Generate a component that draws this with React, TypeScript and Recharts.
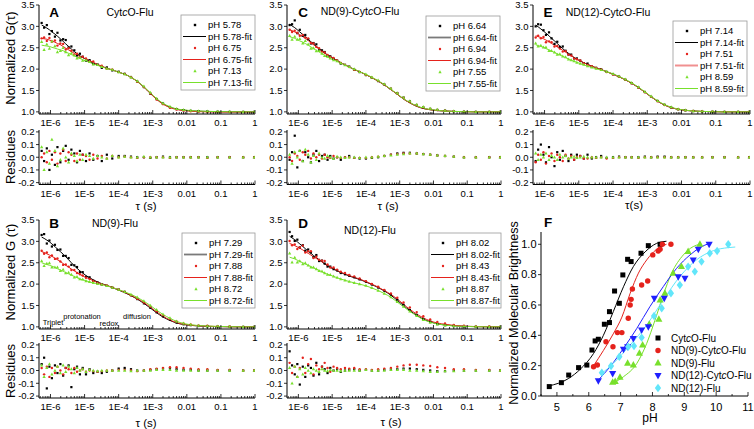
import React from 'react';
import { ComposedChart, Scatter, Line, XAxis, YAxis } from 'recharts';

const FONT = '"Liberation Sans", Arial, Helvetica, sans-serif';
const BLACK = '#000000';
const RED = '#e5221c';
const GREEN = '#78e02c';
const BLUE = '#1f1fff';
const CYAN = '#62e6fa';

// ---------- FCS data (tau in s) ----------
const TAU = [5.5e-7, 6.5e-7, 7.8e-7, 9.3e-7, 1.1e-6, 1.35e-6, 1.6e-6, 1.95e-6, 2.35e-6, 2.8e-6,
  3.4e-6, 4.1e-6, 5e-6, 6e-6, 7.3e-6, 8.8e-6, 1.1e-5, 1.4e-5, 1.8e-5, 2.4e-5,
  3.2e-5, 4.5e-5, 6.5e-5, 1e-4, 1.5e-4, 2.3e-4, 3.5e-4, 5.5e-4, 8.5e-4, 1.3e-3,
  2e-3, 3.2e-3, 5e-3, 8e-3, 1.3e-2, 2.2e-2, 4e-2, 8e-2, 0.18, 0.45, 0.95];

// Panel A: CytcO-Flu
const PH_A = ['5.78', '6.75', '7.13'];
const FIT_A1 = [3.03, 3.00, 2.96, 2.92, 2.87, 2.82, 2.77, 2.71, 2.65, 2.59, 2.53, 2.47, 2.41, 2.36, 2.31, 2.27, 2.23, 2.18, 2.14, 2.10, 2.06, 2.02, 1.98, 1.93, 1.88, 1.81, 1.71, 1.58, 1.43, 1.30, 1.19, 1.11, 1.065, 1.04, 1.025, 1.015, 1.01, 1.005, 1.0, 1.0, 1.0];
const DAT_A1 = [3.08, 2.97, 3.03, 2.82, 2.89, 2.76, 2.85, 2.67, 2.70, 2.68, 2.51, 2.53, 2.44, 2.32, 2.36, 2.29, 2.20, 2.21, 2.12, 2.11, 2.03, 2.04, 1.97, 1.94, 1.89, 1.815, 1.71, 1.58, 1.425, 1.30, 1.195, 1.11, 1.065, 1.04, 1.025, 1.015, 1.01, 1.005, 1.0, 1.0, 1.0];
const RES_A1 = [0.05, -0.03, 0.07, -0.1, 0.02, -0.06, 0.08, -0.04, 0.05, 0.09, -0.02, 0.06, 0.03, -0.04, 0.05, 0.02, -0.03, 0.03, -0.02, 0.01, -0.03, 0.02, -0.01, 0.01, 0.01, 0.005, 0, 0, -0.005, 0, 0.005, 0, 0, 0, 0, 0, 0, 0, 0, 0, 0];
const FIT_A2 = [2.72, 2.71, 2.70, 2.68, 2.66, 2.63, 2.60, 2.57, 2.53, 2.49, 2.45, 2.41, 2.37, 2.33, 2.30, 2.27, 2.24, 2.20, 2.16, 2.11, 2.07, 2.02, 1.98, 1.93, 1.88, 1.81, 1.71, 1.58, 1.43, 1.29, 1.18, 1.10, 1.055, 1.03, 1.015, 1.005, 1.0, 0.995, 0.995, 0.995, 0.995];
const DAT_A2 = [2.72, 2.74, 2.66, 2.73, 2.64, 2.67, 2.55, 2.60, 2.59, 2.46, 2.49, 2.43, 2.34, 2.36, 2.28, 2.29, 2.25, 2.18, 2.18, 2.10, 2.08, 2.01, 1.99, 1.93, 1.885, 1.81, 1.705, 1.58, 1.43, 1.29, 1.18, 1.095, 1.055, 1.03, 1.015, 1.005, 0.995, 0.995, 0.995, 0.995, 0.995];
const RES_A2 = [0, 0.03, -0.04, 0.05, -0.02, 0.04, -0.05, 0.03, 0.06, -0.03, 0.04, 0.02, -0.03, 0.03, -0.02, 0.02, 0.01, -0.02, 0.02, -0.01, 0.01, -0.01, 0.01, 0, 0.005, 0, -0.005, 0, 0, 0, 0, -0.005, 0, 0, 0, 0, -0.005, 0, 0, 0, 0];
const FIT_A3 = [2.56, 2.55, 2.54, 2.53, 2.51, 2.49, 2.47, 2.45, 2.43, 2.40, 2.37, 2.34, 2.31, 2.28, 2.25, 2.22, 2.19, 2.16, 2.12, 2.09, 2.05, 2.02, 1.98, 1.93, 1.88, 1.81, 1.72, 1.59, 1.45, 1.31, 1.20, 1.12, 1.07, 1.045, 1.03, 1.02, 1.012, 1.006, 1.003, 1.0, 1.0];
const DAT_A3 = [2.64, 2.45, 2.58, 2.48, 2.65, 2.54, 2.40, 2.43, 2.50, 2.40, 2.33, 2.37, 2.32, 2.25, 2.27, 2.20, 2.21, 2.17, 2.11, 2.10, 2.05, 2.01, 1.99, 1.93, 1.885, 1.81, 1.72, 1.595, 1.45, 1.31, 1.20, 1.12, 1.07, 1.045, 1.03, 1.02, 1.012, 1.006, 1.003, 1.0, 1.0];
const RES_A3 = [0.08, -0.1, 0.04, -0.05, 0.14, 0.05, -0.07, -0.02, 0.07, 0, -0.04, 0.03, 0.01, -0.03, 0.02, -0.02, 0.02, 0.01, -0.01, 0.01, 0, -0.01, 0.01, 0, 0.005, 0, 0, 0.005, 0, 0, 0, 0, 0, 0, 0, 0, 0, 0, 0, 0, 0];

// Panel B: ND(9)-Flu
const PH_B = ['7.29', '7.88', '8.72'];
const FIT_B1 = [3.10, 3.07, 3.03, 2.99, 2.94, 2.88, 2.82, 2.76, 2.70, 2.64, 2.57, 2.50, 2.43, 2.37, 2.31, 2.26, 2.20, 2.15, 2.10, 2.05, 2.01, 1.97, 1.92, 1.86, 1.80, 1.73, 1.65, 1.55, 1.44, 1.33, 1.23, 1.15, 1.09, 1.055, 1.035, 1.02, 1.012, 1.006, 1.002, 1.0, 1.0];
const DAT_B1 = [3.15, 3.17, 2.95, 3.02, 2.88, 2.92, 2.80, 2.81, 2.66, 2.66, 2.61, 2.45, 2.44, 2.40, 2.28, 2.28, 2.17, 2.16, 2.08, 2.04, 1.99, 1.96, 1.92, 1.875, 1.82, 1.74, 1.65, 1.55, 1.445, 1.34, 1.245, 1.165, 1.10, 1.06, 1.04, 1.02, 1.012, 1.006, 1.002, 1.0, 1.0];
const RES_B1 = [0.05, 0.1, -0.14, 0.03, -0.06, 0.04, -0.02, 0.05, -0.04, 0.02, 0.04, -0.13, 0.01, 0.03, -0.03, 0.02, -0.03, 0.01, -0.02, -0.01, -0.02, -0.01, 0, 0.015, 0.02, 0.01, 0, 0, 0.005, 0.01, 0.015, 0.015, 0.01, 0.005, 0.005, 0, 0, 0, 0, 0, 0];
const FIT_B2 = [2.76, 2.74, 2.71, 2.68, 2.65, 2.61, 2.57, 2.53, 2.48, 2.44, 2.40, 2.35, 2.31, 2.27, 2.23, 2.19, 2.16, 2.12, 2.08, 2.04, 2.00, 1.97, 1.92, 1.87, 1.81, 1.74, 1.66, 1.57, 1.46, 1.35, 1.25, 1.16, 1.10, 1.06, 1.04, 1.025, 1.015, 1.008, 1.003, 1.0, 1.0];
const DAT_B2 = [2.78, 2.71, 2.74, 2.63, 2.67, 2.59, 2.60, 2.53, 2.45, 2.46, 2.41, 2.33, 2.33, 2.26, 2.23, 2.20, 2.15, 2.12, 2.075, 2.03, 1.995, 1.97, 1.92, 1.875, 1.815, 1.74, 1.655, 1.57, 1.47, 1.365, 1.27, 1.185, 1.125, 1.08, 1.055, 1.035, 1.025, 1.013, 1.008, 1.0, 1.0];
const RES_B2 = [0.02, -0.03, 0.03, -0.05, 0.02, -0.02, 0.03, 0, -0.03, 0.02, 0.01, -0.02, 0.02, -0.01, 0, 0.01, -0.01, 0, -0.005, -0.01, -0.005, 0, 0, 0.005, 0.005, 0, -0.005, 0, 0.01, 0.015, 0.02, 0.025, 0.025, 0.02, 0.015, 0.01, 0.01, 0.005, 0.005, 0, 0];
const FIT_B3 = [2.50, 2.48, 2.46, 2.44, 2.42, 2.39, 2.36, 2.33, 2.30, 2.27, 2.24, 2.21, 2.18, 2.15, 2.12, 2.10, 2.08, 2.05, 2.03, 2.01, 1.99, 1.96, 1.92, 1.87, 1.82, 1.76, 1.69, 1.60, 1.50, 1.39, 1.29, 1.20, 1.13, 1.08, 1.05, 1.03, 1.02, 1.01, 1.004, 1.0, 1.0];
const DAT_B3 = [2.54, 2.43, 2.48, 2.49, 2.39, 2.39, 2.39, 2.31, 2.34, 2.26, 2.27, 2.22, 2.16, 2.17, 2.12, 2.11, 2.07, 2.055, 2.03, 2.005, 1.99, 1.96, 1.92, 1.87, 1.82, 1.755, 1.69, 1.60, 1.50, 1.395, 1.295, 1.205, 1.13, 1.08, 1.05, 1.03, 1.02, 1.01, 1.004, 1.0, 1.0];
const RES_B3 = [0.04, -0.05, 0.02, 0.05, -0.03, 0, 0.03, -0.02, 0.04, -0.01, 0.03, 0.01, -0.02, 0.02, 0, 0.01, -0.01, 0.005, 0, -0.005, 0, 0, 0, 0, 0, -0.005, 0, 0, 0, 0.005, 0.005, 0.005, 0, 0, 0, 0, 0, 0, 0, 0, 0];

// Panel C: ND(9)-CytcO-Flu
const PH_C = ['6.64', '6.94', '7.55'];
const FIT_C1 = [3.05, 3.01, 2.97, 2.92, 2.87, 2.81, 2.76, 2.70, 2.64, 2.59, 2.53, 2.48, 2.43, 2.38, 2.33, 2.29, 2.25, 2.20, 2.15, 2.10, 2.05, 1.99, 1.94, 1.87, 1.80, 1.72, 1.63, 1.52, 1.41, 1.30, 1.21, 1.13, 1.08, 1.05, 1.03, 1.02, 1.01, 1.005, 1.0, 1.0, 1.0];
const DAT_C1 = [3.03, 3.05, 3.14, 2.84, 2.92, 2.78, 2.80, 2.70, 2.60, 2.61, 2.58, 2.45, 2.44, 2.40, 2.31, 2.30, 2.24, 2.20, 2.13, 2.10, 2.06, 1.985, 1.93, 1.86, 1.795, 1.72, 1.64, 1.54, 1.44, 1.335, 1.245, 1.16, 1.105, 1.07, 1.045, 1.03, 1.015, 1.005, 1.0, 1.0, 1.0];
const RES_C1 = [-0.02, 0.04, 0.17, -0.08, 0.05, -0.03, 0.04, 0, -0.04, 0.02, 0.05, -0.03, 0.01, 0.02, -0.02, 0.01, -0.01, 0, -0.02, 0, 0.01, -0.005, -0.01, -0.01, -0.005, 0, 0.01, 0.02, 0.03, 0.035, 0.035, 0.03, 0.025, 0.02, 0.015, 0.01, 0.005, 0, 0, 0, 0];
const FIT_C2 = [2.92, 2.90, 2.87, 2.84, 2.80, 2.76, 2.72, 2.67, 2.62, 2.57, 2.52, 2.47, 2.42, 2.37, 2.33, 2.29, 2.25, 2.20, 2.15, 2.10, 2.05, 1.99, 1.94, 1.87, 1.80, 1.72, 1.63, 1.52, 1.41, 1.30, 1.21, 1.13, 1.08, 1.05, 1.03, 1.02, 1.01, 1.005, 1.0, 1.0, 1.0];
const DAT_C2 = [2.92, 2.87, 2.90, 2.85, 2.78, 2.80, 2.74, 2.72, 2.61, 2.60, 2.52, 2.49, 2.41, 2.39, 2.33, 2.285, 2.26, 2.20, 2.145, 2.10, 2.05, 1.985, 1.935, 1.865, 1.80, 1.725, 1.64, 1.54, 1.435, 1.33, 1.24, 1.16, 1.105, 1.07, 1.045, 1.03, 1.015, 1.005, 1.0, 1.0, 1.0];
const RES_C2 = [0, -0.03, 0.03, 0.01, -0.02, 0.04, 0.02, 0.05, -0.01, 0.03, 0, 0.02, -0.01, 0.02, 0, -0.005, 0.01, 0, -0.005, 0, 0, -0.005, -0.005, -0.005, 0, 0.005, 0.01, 0.02, 0.025, 0.03, 0.03, 0.03, 0.025, 0.02, 0.015, 0.01, 0.005, 0, 0, 0, 0];
const FIT_C3 = [2.76, 2.74, 2.72, 2.69, 2.66, 2.63, 2.60, 2.56, 2.52, 2.48, 2.44, 2.40, 2.36, 2.32, 2.28, 2.25, 2.22, 2.18, 2.14, 2.10, 2.05, 2.00, 1.94, 1.88, 1.81, 1.73, 1.64, 1.53, 1.42, 1.31, 1.22, 1.14, 1.09, 1.055, 1.035, 1.02, 1.01, 1.005, 1.0, 1.0, 1.0];
const DAT_C3 = [2.78, 2.69, 2.76, 2.69, 2.71, 2.60, 2.66, 2.58, 2.48, 2.49, 2.42, 2.43, 2.36, 2.31, 2.29, 2.25, 2.21, 2.185, 2.14, 2.095, 2.05, 2.00, 1.935, 1.88, 1.81, 1.735, 1.65, 1.545, 1.44, 1.335, 1.25, 1.17, 1.115, 1.075, 1.05, 1.03, 1.015, 1.005, 1.0, 1.0, 1.0];
const RES_C3 = [0.02, -0.05, 0.04, 0, 0.05, -0.03, 0.06, 0.02, -0.04, 0.01, -0.02, 0.03, 0, -0.01, 0.01, 0, -0.01, 0.005, 0, -0.005, 0, 0, -0.005, 0, 0, 0.005, 0.01, 0.015, 0.02, 0.025, 0.03, 0.03, 0.025, 0.02, 0.015, 0.01, 0.005, 0, 0, 0, 0];

// Panel D: ND(12)-Flu
const PH_D = ['8.02', '8.43', '8.87'];
const FIT_D1 = [3.12, 3.08, 3.04, 2.99, 2.94, 2.88, 2.83, 2.77, 2.72, 2.67, 2.62, 2.57, 2.52, 2.47, 2.43, 2.39, 2.35, 2.31, 2.27, 2.23, 2.19, 2.15, 2.11, 2.05, 1.99, 1.92, 1.84, 1.74, 1.62, 1.50, 1.38, 1.27, 1.18, 1.12, 1.07, 1.045, 1.025, 1.012, 1.005, 1.0, 1.0];
const DAT_D1 = [3.22, 3.12, 3.01, 3.04, 2.86, 2.91, 2.78, 2.81, 2.74, 2.63, 2.68, 2.54, 2.55, 2.48, 2.41, 2.41, 2.35, 2.32, 2.26, 2.23, 2.195, 2.16, 2.11, 2.055, 1.99, 1.92, 1.845, 1.75, 1.63, 1.515, 1.395, 1.28, 1.185, 1.12, 1.065, 1.04, 1.025, 1.012, 1.005, 1.0, 1.0];
const RES_D1 = [0.15, 0.04, -0.03, 0.05, -0.11, 0.03, -0.05, 0.04, 0.02, -0.04, 0.06, -0.03, 0.03, 0.01, -0.02, 0.02, 0, 0.01, -0.01, 0, 0.005, 0.01, 0, 0.005, 0, 0, 0.005, 0.01, 0.01, 0.015, 0.015, 0.01, 0.005, 0, -0.005, -0.005, 0, 0, 0, 0, 0];
const FIT_D2 = [2.95, 2.93, 2.90, 2.87, 2.84, 2.80, 2.76, 2.72, 2.68, 2.64, 2.60, 2.56, 2.52, 2.48, 2.44, 2.40, 2.36, 2.32, 2.28, 2.24, 2.20, 2.16, 2.12, 2.06, 2.00, 1.93, 1.85, 1.76, 1.65, 1.53, 1.41, 1.30, 1.21, 1.14, 1.09, 1.06, 1.035, 1.018, 1.007, 1.002, 1.0];
const DAT_D2 = [3.01, 2.91, 2.93, 2.82, 2.86, 2.90, 2.74, 2.77, 2.77, 2.61, 2.64, 2.57, 2.55, 2.54, 2.46, 2.39, 2.39, 2.34, 2.29, 2.26, 2.215, 2.18, 2.13, 2.07, 2.005, 1.94, 1.865, 1.78, 1.68, 1.57, 1.455, 1.345, 1.25, 1.175, 1.115, 1.08, 1.045, 1.028, 1.012, 1.007, 1.0];
const RES_D2 = [0.06, -0.02, 0.03, -0.05, 0.02, 0.1, -0.02, 0.05, 0.09, -0.03, 0.04, 0.01, 0.03, 0.06, 0.02, -0.01, 0.03, 0.02, 0.01, 0.02, 0.015, 0.02, 0.01, 0.01, 0.005, 0.01, 0.015, 0.02, 0.03, 0.04, 0.045, 0.045, 0.04, 0.035, 0.025, 0.02, 0.01, 0.01, 0.005, 0.005, 0];
const FIT_D3 = [2.63, 2.61, 2.59, 2.56, 2.53, 2.50, 2.47, 2.44, 2.41, 2.38, 2.35, 2.32, 2.29, 2.26, 2.23, 2.21, 2.18, 2.15, 2.12, 2.09, 2.06, 2.03, 2.00, 1.96, 1.91, 1.85, 1.78, 1.69, 1.58, 1.47, 1.36, 1.26, 1.17, 1.11, 1.07, 1.04, 1.02, 1.01, 1.004, 1.0, 1.0];
const DAT_D3 = [2.72, 2.51, 2.62, 2.51, 2.54, 2.47, 2.49, 2.44, 2.39, 2.39, 2.35, 2.31, 2.30, 2.26, 2.225, 2.215, 2.18, 2.15, 2.115, 2.09, 2.06, 2.03, 2.00, 1.965, 1.91, 1.85, 1.78, 1.695, 1.585, 1.475, 1.36, 1.26, 1.165, 1.10, 1.06, 1.035, 1.015, 1.01, 1.004, 1.0, 1.0];
const RES_D3 = [0.02, -0.1, 0.03, -0.05, 0.01, -0.03, 0.02, 0, -0.02, 0.01, 0, -0.01, 0.01, 0, -0.005, 0.005, 0, 0, -0.005, 0, 0, 0, 0, 0.005, 0, 0, 0, 0.005, 0.005, 0.005, 0, 0, -0.005, -0.01, -0.01, -0.005, -0.005, 0, 0, 0, 0];

// Panel E: ND(12)-CytcO-Flu
const PH_E = ['7.14', '7.51', '8.59'];
const FIT_E1 = [3.03, 2.99, 2.94, 2.89, 2.84, 2.78, 2.72, 2.66, 2.60, 2.54, 2.48, 2.42, 2.37, 2.32, 2.27, 2.23, 2.19, 2.15, 2.11, 2.07, 2.03, 1.99, 1.94, 1.88, 1.82, 1.75, 1.67, 1.57, 1.46, 1.35, 1.25, 1.16, 1.10, 1.06, 1.035, 1.02, 1.01, 1.005, 1.0, 1.0, 1.0];
const DAT_E1 = [3.00, 3.05, 3.04, 2.91, 2.80, 2.86, 2.72, 2.59, 2.64, 2.52, 2.53, 2.43, 2.34, 2.34, 2.25, 2.25, 2.20, 2.14, 2.13, 2.06, 2.03, 2.00, 1.935, 1.88, 1.825, 1.75, 1.67, 1.57, 1.465, 1.35, 1.255, 1.165, 1.10, 1.06, 1.035, 1.02, 1.01, 1.005, 1.0, 1.0, 1.0];
const RES_E1 = [-0.03, 0.06, 0.1, 0.02, -0.04, 0.08, 0, -0.07, 0.04, -0.02, 0.05, 0.01, -0.03, 0.02, -0.02, 0.02, 0.01, -0.01, 0.02, -0.01, 0, 0.01, -0.005, 0, 0.005, 0, 0, 0, 0.005, 0, 0.005, 0.005, 0, 0, 0, 0, 0, 0, 0, 0, 0];
const FIT_E2 = [2.78, 2.76, 2.74, 2.71, 2.68, 2.64, 2.60, 2.56, 2.52, 2.48, 2.44, 2.40, 2.35, 2.31, 2.27, 2.23, 2.19, 2.15, 2.11, 2.07, 2.03, 1.99, 1.94, 1.88, 1.82, 1.75, 1.67, 1.57, 1.46, 1.35, 1.25, 1.16, 1.10, 1.06, 1.035, 1.02, 1.01, 1.005, 1.0, 1.0, 1.0];
const DAT_E2 = [2.74, 2.78, 2.72, 2.75, 2.63, 2.65, 2.63, 2.53, 2.54, 2.48, 2.41, 2.42, 2.34, 2.32, 2.25, 2.23, 2.20, 2.14, 2.10, 2.07, 2.025, 1.99, 1.93, 1.875, 1.82, 1.75, 1.67, 1.565, 1.46, 1.35, 1.25, 1.16, 1.10, 1.06, 1.035, 1.02, 1.01, 1.005, 1.0, 1.0, 1.0];
const RES_E2 = [-0.04, 0.02, -0.02, 0.04, -0.05, 0.01, 0.03, -0.03, 0.02, 0, -0.03, 0.02, -0.01, 0.01, -0.02, 0, 0.01, -0.01, -0.01, 0, -0.005, 0, -0.01, -0.005, 0, 0, 0, -0.005, 0, 0, 0, 0, 0, 0, 0, 0, 0, 0, 0, 0, 0];
const FIT_E3 = [2.57, 2.55, 2.53, 2.51, 2.48, 2.45, 2.42, 2.39, 2.36, 2.33, 2.30, 2.27, 2.24, 2.21, 2.18, 2.16, 2.13, 2.10, 2.07, 2.04, 2.01, 1.98, 1.94, 1.89, 1.83, 1.76, 1.68, 1.58, 1.47, 1.36, 1.26, 1.17, 1.11, 1.065, 1.04, 1.02, 1.01, 1.005, 1.0, 1.0, 1.0];
const DAT_E3 = [2.60, 2.53, 2.55, 2.51, 2.51, 2.43, 2.43, 2.39, 2.34, 2.35, 2.30, 2.28, 2.23, 2.21, 2.185, 2.155, 2.13, 2.105, 2.07, 2.04, 2.01, 1.98, 1.94, 1.89, 1.83, 1.76, 1.68, 1.58, 1.47, 1.36, 1.26, 1.17, 1.11, 1.065, 1.04, 1.02, 1.01, 1.005, 1.0, 1.0, 1.0];
const RES_E3 = [0.03, -0.02, 0.02, 0, 0.03, -0.02, 0.01, 0, -0.02, 0.02, 0, 0.01, -0.01, 0, 0.005, -0.005, 0, 0.005, 0, 0, 0, 0, 0, 0, 0, 0, 0, 0, 0, 0, 0, 0, 0, 0, 0, 0, 0, 0, 0, 0, 0];

// ---------- Panel F data ----------
const F_NAMES = ['CytcO-Flu', 'ND(9)-CytcO-Flu', 'ND(9)-Flu', 'ND(12)-CytcO-Flu', 'ND(12)-Flu'];
const PH_CYT = [4.76, 5.14, 5.37, 5.68, 5.94, 6.10, 6.20, 6.30, 6.49, 6.65, 6.65, 6.81, 6.96, 7.07, 7.22, 7.33, 7.64, 7.87, 8.24];
const BR_CYT = [0.062, 0.088, 0.138, 0.187, 0.204, 0.303, 0.363, 0.374, 0.473, 0.556, 0.484, 0.692, 0.611, 0.798, 0.901, 0.886, 0.941, 0.991, 1.0];
const PH_ND9C = [6.15, 6.27, 6.54, 6.76, 6.90, 7.04, 7.24, 7.30, 7.33, 7.37, 7.66, 7.85, 8.01, 8.18, 8.24, 8.31, 8.58];
const BR_ND9C = [0.193, 0.204, 0.358, 0.325, 0.418, 0.418, 0.512, 0.600, 0.637, 0.705, 0.732, 0.758, 0.930, 0.956, 0.967, 1.0, 1.0];
const PH_ND9F = [6.75, 6.83, 6.98, 7.22, 7.40, 7.59, 7.69, 7.90, 8.20, 8.24, 8.39, 8.65, 8.91, 9.12, 9.49];
const BR_ND9F = [0.09, 0.095, 0.123, 0.215, 0.204, 0.281, 0.336, 0.473, 0.505, 0.633, 0.677, 0.809, 0.853, 0.952, 1.0];
const PH_ND12C = [6.30, 6.75, 7.09, 7.22, 7.40, 7.66, 7.87, 8.06, 8.37, 8.81, 9.02, 9.28, 9.44, 9.78];
const BR_ND12C = [0.101, 0.149, 0.308, 0.325, 0.380, 0.435, 0.457, 0.644, 0.644, 0.787, 0.776, 0.897, 0.967, 1.0];
const PH_ND12F = [6.41, 6.70, 6.96, 7.24, 7.42, 7.66, 8.05, 8.29, 8.58, 8.86, 9.12, 9.33, 9.54, 9.80, 10.03, 10.38];
const BR_ND12F = [0.154, 0.198, 0.259, 0.325, 0.330, 0.385, 0.527, 0.578, 0.677, 0.732, 0.853, 0.820, 0.886, 0.941, 0.956, 1.0];

const FPH_CYT = [4.74, 5.37, 5.73, 6.15, 6.46, 6.77, 7.09, 7.40, 7.77, 8.13, 8.44];
const FBR_CYT = [0.066, 0.116, 0.176, 0.28, 0.40, 0.556, 0.72, 0.853, 0.95, 1.006, 1.02];
const FPH_ND9C = [6.13, 6.46, 6.77, 7.04, 7.30, 7.56, 7.82, 8.13, 8.44];
const FBR_ND9C = [0.193, 0.30, 0.41, 0.52, 0.677, 0.81, 0.897, 0.967, 1.0];
const FPH_ND9F = [6.75, 7.09, 7.51, 7.82, 8.08, 8.34, 8.60, 8.97, 9.28, 9.49];
const FBR_ND9F = [0.084, 0.127, 0.215, 0.347, 0.50, 0.666, 0.809, 0.93, 0.985, 1.0];
const FPH_ND12C = [6.30, 6.67, 7.09, 7.51, 7.92, 8.34, 8.76, 9.18, 9.49, 9.80];
const FBR_ND12C = [0.105, 0.193, 0.314, 0.446, 0.589, 0.721, 0.842, 0.93, 0.978, 1.007];
const FPH_ND12F = [6.41, 6.77, 7.30, 7.82, 8.34, 8.86, 9.38, 9.91, 10.38, 10.60];
const FBR_ND12F = [0.149, 0.215, 0.336, 0.468, 0.633, 0.787, 0.897, 0.958, 0.978, 0.982];

// ---------- ticks ----------
const TAU_DOMAIN = [4.6e-7, 1];
const TAU_MAJOR = [1e-6, 1e-5, 1e-4, 1e-3, 1e-2, 1e-1, 1];
const TAU_LABELS = ['1E-6', '1E-5', '1E-4', '1E-3', '0.01', '0.1', '1'];
const TAU_DECADES = [1e-7, 1e-6, 1e-5, 1e-4, 1e-3, 1e-2, 1e-1];
const MINOR_MULT = [2, 3, 4, 5, 6, 7, 8, 9];
const TAU_TICKS = [...TAU_MAJOR, ...TAU_DECADES.flatMap((b) => MINOR_MULT.map((m) => Number((b * m).toPrecision(3))))]
  .filter((v) => v >= TAU_DOMAIN[0] && v <= TAU_DOMAIN[1])
  .sort((a, b) => a - b);
const G_TICKS = [1.0, 1.5, 2.0, 2.5, 3.0, 3.5];
const RES_TICKS = [-0.2, -0.1, 0, 0.1, 0.2];
const PH_MAJOR = [5, 6, 7, 8, 9, 10, 11];
const PH_LABELS = ['5', '6', '7', '8', '9', '10', '11'];
const PH_TICKS = [4.5, 5, 5.5, 6, 6.5, 7, 7.5, 8, 8.5, 9, 9.5, 10, 10.5, 11];
const BR_TICKS = [0, 0.2, 0.4, 0.6, 0.8, 1.0];

type Pt = { t: number; g: number };
const zip = (xs: number[], ys: number[]): Pt[] => xs.map((t, i) => ({ t, g: ys[i] }));

// ---------- shapes ----------
type ShapeKind = 'sq' | 'ci' | 'tri' | 'tridown' | 'dia';
function drawShape(kind: ShapeKind, color: string, s: number, cx: number, cy: number, key?: string) {
  if (cx == null || cy == null || isNaN(cx) || isNaN(cy)) return <g key={key} />;
  switch (kind) {
    case 'sq':
      return <rect key={key} x={cx - s / 2} y={cy - s / 2} width={s} height={s} fill={color} />;
    case 'ci':
      return <circle key={key} cx={cx} cy={cy} r={s / 2} fill={color} />;
    case 'tri':
      return <polygon key={key} points={`${cx},${cy - s * 0.62} ${cx - s * 0.55},${cy + s * 0.38} ${cx + s * 0.55},${cy + s * 0.38}`} fill={color} />;
    case 'tridown':
      return <polygon key={key} points={`${cx},${cy + s * 0.62} ${cx - s * 0.55},${cy - s * 0.38} ${cx + s * 0.55},${cy - s * 0.38}`} fill={color} />;
    default:
      return <polygon key={key} points={`${cx},${cy - s * 0.6} ${cx - s * 0.45},${cy} ${cx},${cy + s * 0.6} ${cx + s * 0.45},${cy}`} fill={color} />;
  }
}
const shapeFn = (kind: ShapeKind, color: string, s: number) => (p: any) => drawShape(kind, color, s, p.cx, p.cy);

// ---------- ticks renderers ----------
function XTick(props: any) {
  const { x, y, payload, majors, labels, side, showLabel, labelDy, fs } = props;
  const v = payload ? payload.value : NaN;
  const i = majors.findIndex((m: number) => Math.abs(v - m) <= Math.abs(m) * 1e-6);
  const major = i >= 0;
  const len = major ? 4 : 2;
  const y2 = side === 'bottom' ? y - len : y + len;
  return (
    <g>
      <line x1={x} y1={y} x2={x} y2={y2} stroke="#000" strokeWidth={0.8} />
      {showLabel && major ? (
        <text x={x} y={y + labelDy} textAnchor="middle" fontSize={fs} fontFamily={FONT} fill="#000">
          {labels[i]}
        </text>
      ) : null}
    </g>
  );
}
function YTick(props: any) {
  const { x, y, payload, fs } = props;
  const v = payload ? payload.value : 0;
  return (
    <g>
      <line x1={x} y1={y} x2={x - 3} y2={y} stroke="#000" strokeWidth={0.8} />
      <text x={x - 4.5} y={y + fs * 0.35} textAnchor="end" fontSize={fs} fontFamily={FONT} fill="#000">
        {Number(v).toFixed(1)}
      </text>
    </g>
  );
}

// ---------- panels ----------
interface Ser { fit: number[]; dat: number[]; res: number[]; color: string; shape: ShapeKind; size: number; }
interface PanelCfg { left: number; width: number; mTop: number; mBot: number; rTop: number; rBot: number; series: Ser[]; }

const mk = (fits: number[][], dats: number[][], ress: number[][]): Ser[] => [
  { fit: fits[0], dat: dats[0], res: ress[0], color: BLACK, shape: 'sq', size: 2.2 },
  { fit: fits[1], dat: dats[1], res: ress[1], color: RED, shape: 'ci', size: 2.4 },
  { fit: fits[2], dat: dats[2], res: ress[2], color: GREEN, shape: 'tri', size: 3 },
];

const PANELS: PanelCfg[] = [
  { left: 39, width: 216, mTop: 5, mBot: 114, rTop: 130, rBot: 184.5, series: mk([FIT_A1, FIT_A2, FIT_A3], [DAT_A1, DAT_A2, DAT_A3], [RES_A1, RES_A2, RES_A3]) },
  { left: 39, width: 216, mTop: 220, mBot: 329, rTop: 343, rBot: 398, series: mk([FIT_B1, FIT_B2, FIT_B3], [DAT_B1, DAT_B2, DAT_B3], [RES_B1, RES_B2, RES_B3]) },
  { left: 287, width: 214, mTop: 5, mBot: 114, rTop: 130, rBot: 184.5, series: mk([FIT_C1, FIT_C2, FIT_C3], [DAT_C1, DAT_C2, DAT_C3], [RES_C1, RES_C2, RES_C3]) },
  { left: 287, width: 214, mTop: 220, mBot: 329, rTop: 343, rBot: 398, series: mk([FIT_D1, FIT_D2, FIT_D3], [DAT_D1, DAT_D2, DAT_D3], [RES_D1, RES_D2, RES_D3]) },
  { left: 533, width: 217, mTop: 5, mBot: 114, rTop: 130, rBot: 184.5, series: mk([FIT_E1, FIT_E2, FIT_E3], [DAT_E1, DAT_E2, DAT_E3], [RES_E1, RES_E2, RES_E3]) },
];

const YW = 40, TM = 8, RM = 10, XH = 22;
const TICK_FS = 9.5;

function tauAxisProps() {
  return {
    dataKey: 't', type: 'number' as const, scale: 'log' as const, domain: TAU_DOMAIN, allowDataOverflow: true,
    ticks: TAU_TICKS, interval: 0 as const, tickLine: false, tickSize: 0, tickMargin: 0, stroke: '#000',
  };
}

function FcsPanel({ p }: { p: PanelCfg }) {
  const mainH = p.mBot - p.mTop;
  const resH = p.rBot - p.rTop;
  const W = YW + p.width + RM;
  const mainEls = p.series.flatMap((s, i) => [
    <Scatter key={'d' + i} data={zip(TAU, s.dat)} dataKey="g" isAnimationActive={false} shape={shapeFn(s.shape, s.color, s.size)} />,
    <Line key={'f' + i} data={zip(TAU, s.fit)} dataKey="g" type="monotone" stroke={s.color} strokeWidth={1} dot={false} activeDot={false} isAnimationActive={false} />,
  ]);
  const resEls = p.series.map((s, i) => (
    <Scatter key={'r' + i} data={zip(TAU, s.res)} dataKey="g" isAnimationActive={false} shape={shapeFn(s.shape, s.color, s.size)} />
  ));
  return (
    <>
      <div style={{ position: 'absolute', left: p.left - YW, top: p.mTop - TM }}>
        <ComposedChart width={W} height={TM + mainH + XH} margin={{ top: TM, right: RM, bottom: 0, left: 0 }}>
          <XAxis {...tauAxisProps()} height={XH}
            tick={(q: any) => <XTick {...q} majors={TAU_MAJOR} labels={TAU_LABELS} side="bottom" showLabel labelDy={12.3} fs={TICK_FS} />} />
          <YAxis dataKey="g" type="number" domain={[0.95, 3.5]} allowDataOverflow ticks={G_TICKS} interval={0} width={YW}
            tickLine={false} tickSize={0} tickMargin={0} stroke="#000" tick={(q: any) => <YTick {...q} fs={TICK_FS} />} />
          {mainEls}
        </ComposedChart>
      </div>
      <div style={{ position: 'absolute', left: p.left - YW, top: p.rTop - TM }}>
        <ComposedChart width={W} height={TM + resH + XH} margin={{ top: TM, right: RM, bottom: 0, left: 0 }}>
          <XAxis {...tauAxisProps()} height={XH}
            tick={(q: any) => <XTick {...q} majors={TAU_MAJOR} labels={TAU_LABELS} side="bottom" showLabel labelDy={12} fs={TICK_FS} />} />
          <XAxis {...tauAxisProps()} xAxisId="top" orientation="top" height={0}
            tick={(q: any) => <XTick {...q} majors={TAU_MAJOR} labels={TAU_LABELS} side="top" showLabel={false} labelDy={0} fs={TICK_FS} />} />
          <YAxis dataKey="g" type="number" domain={[-0.215, 0.215]} allowDataOverflow ticks={RES_TICKS} interval={0} width={YW}
            tickLine={false} tickSize={0} tickMargin={0} stroke="#000" tick={(q: any) => <YTick {...q} fs={TICK_FS} />} />
          {resEls}
        </ComposedChart>
      </div>
    </>
  );
}

// Panel F
const F_LEFT = 541, F_W = 207, F_TOP = 232, F_H = 164;
const F_SERIES = [
  { pts: zip(PH_CYT, BR_CYT), fit: zip(FPH_CYT, FBR_CYT), color: BLACK, shape: 'sq' as ShapeKind, size: 5 },
  { pts: zip(PH_ND9C, BR_ND9C), fit: zip(FPH_ND9C, FBR_ND9C), color: RED, shape: 'ci' as ShapeKind, size: 5.4 },
  { pts: zip(PH_ND9F, BR_ND9F), fit: zip(FPH_ND9F, FBR_ND9F), color: GREEN, shape: 'tri' as ShapeKind, size: 6.5 },
  { pts: zip(PH_ND12C, BR_ND12C), fit: zip(FPH_ND12C, FBR_ND12C), color: BLUE, shape: 'tridown' as ShapeKind, size: 6.5 },
  { pts: zip(PH_ND12F, BR_ND12F), fit: zip(FPH_ND12F, FBR_ND12F), color: CYAN, shape: 'dia' as ShapeKind, size: 7 },
];

function PanelF() {
  const els = F_SERIES.flatMap((s, i) => [
    <Line key={'fl' + i} data={s.fit} dataKey="g" type="monotone" stroke={s.color} strokeWidth={1} dot={false} activeDot={false} isAnimationActive={false} />,
    <Scatter key={'fs' + i} data={s.pts} dataKey="g" isAnimationActive={false} shape={shapeFn(s.shape, s.color, s.size)} />,
  ]);
  return (
    <div style={{ position: 'absolute', left: F_LEFT - YW, top: F_TOP - TM }}>
      <ComposedChart width={YW + F_W + RM} height={TM + F_H + XH} margin={{ top: TM, right: RM, bottom: 0, left: 0 }}>
        <XAxis dataKey="t" type="number" domain={[4.5, 11]} allowDataOverflow ticks={PH_TICKS} interval={0} tickLine={false}
          tickSize={0} tickMargin={0} height={XH} stroke="#000"
          tick={(q: any) => <XTick {...q} majors={PH_MAJOR} labels={PH_LABELS} side="bottom" showLabel labelDy={14.5} fs={11} />} />
        <YAxis dataKey="g" type="number" domain={[0, 1.081]} allowDataOverflow ticks={BR_TICKS} interval={0} width={YW}
          tickLine={false} tickSize={0} tickMargin={0} stroke="#000" tick={(q: any) => <YTick {...q} fs={11} />} />
        {els}
      </ComposedChart>
    </div>
  );
}

// ---------- overlay text ----------
function nameSpans(s: string) {
  const i = s.indexOf('Cytc');
  if (i < 0) return s;
  return [
    <tspan key="a">{s.slice(0, i + 3)}</tspan>,
    <tspan key="b" fontStyle="italic">c</tspan>,
    <tspan key="c">{s.slice(i + 4)}</tspan>,
  ];
}

interface LegItem { label: string; line: boolean; color: string; shape: ShapeKind; size: number; lw?: number; lc?: string; }
const legItems = (phs: string[], fitStyles?: { lw: number; lc: string }[]): LegItem[] => {
  const base: [string, ShapeKind, number][] = [[BLACK, 'sq', 2.4], [RED, 'ci', 2.4], [GREEN, 'tri', 3]];
  return phs.flatMap((ph, i) => [
    { label: 'pH ' + ph, line: false, color: base[i][0], shape: base[i][1], size: base[i][2] },
    { label: 'pH ' + ph + '-fit', line: true, color: base[i][0], shape: base[i][1], size: 0, lw: fitStyles ? fitStyles[i].lw : 1, lc: fitStyles ? fitStyles[i].lc : base[i][0] },
  ]);
};

function FcsLegend({ x, y, w, items }: { x: number; y: number; w: number; items: LegItem[] }) {
  return (
    <g>
      <rect x={x} y={y} width={w} height={75} fill="#fff" stroke="#9a9a9a" strokeWidth={0.8} />
      {items.map((it, i) => {
        const cy = y + 10 + i * 11.5;
        return (
          <g key={i}>
            {it.line ? (
              <line x1={x + 2} x2={x + 25} y1={cy} y2={cy} stroke={it.lc || it.color} strokeWidth={it.lw || 1} />
            ) : (
              drawShape(it.shape, it.color, it.size, x + 14, cy)
            )}
            <text x={x + 27} y={cy + 3.3} fontSize={9.5} fontFamily={FONT} fill="#000">{it.label}</text>
          </g>
        );
      })}
    </g>
  );
}

function Overlay() {
  const t = (x: number, y: number, s: string | React.ReactNode, fs: number, extra: any = {}) => (
    <text x={x} y={y} fontSize={fs} fontFamily={FONT} fill="#000" textAnchor="middle" {...extra}>{s}</text>
  );
  const rot = (x: number, y: number, s: string, fs: number) => (
    <text transform={`translate(${x},${y}) rotate(-90)`} fontSize={fs} fontFamily={FONT} fill="#000" textAnchor="middle">{s}</text>
  );
  const fShapes: [string, ShapeKind, number][] = [[BLACK, 'sq', 5], [RED, 'ci', 5.4], [GREEN, 'tri', 6.5], [BLUE, 'tridown', 6.5], [CYAN, 'dia', 7]];
  return (
    <svg width={754} height={429} style={{ position: 'absolute', left: 0, top: 0, pointerEvents: 'none' }}>
      {/* panel letters */}
      {t(54, 17, 'A', 13.5, { fontWeight: 'bold' })}
      {t(54, 228, 'B', 13.5, { fontWeight: 'bold' })}
      {t(303, 17, 'C', 13.5, { fontWeight: 'bold' })}
      {t(303, 228, 'D', 13.5, { fontWeight: 'bold' })}
      {t(548, 17, 'E', 13.5, { fontWeight: 'bold' })}
      {t(548, 227, 'F', 13.5, { fontWeight: 'bold' })}
      {/* titles */}
      {t(130, 16, nameSpans('CytcO-Flu'), 10.5)}
      {t(360, 15, nameSpans('ND(9)-CytcO-Flu'), 10.5)}
      {t(608, 16, nameSpans('ND(12)-CytcO-Flu'), 10.5)}
      {t(115, 227, 'ND(9)-Flu', 10.5)}
      {t(370, 234, 'ND(12)-Flu', 10.5)}
      {/* y labels */}
      {rot(15, 58, 'Normalized G(τ)', 13)}
      {rot(15, 157, 'Residues', 13)}
      {rot(15, 272, 'Normalized G (τ)', 13)}
      {rot(15, 371, 'Residues', 13)}
      {rot(518, 313, 'Normalized Molecular Brightness', 12.5)}
      {/* x labels */}
      {t(146, 209.5, 'τ (s)', 11.5)}
      {t(388, 209.5, 'τ (s)', 11.5)}
      {t(634, 209, 'τ(s)', 11.5)}
      {t(146, 426.5, 'τ (s)', 11.5)}
      {t(391, 426, 'τ (s)', 11.5)}
      {t(650, 422, 'pH', 12)}
      {/* annotations */}
      {t(53, 325, 'Triplet', 7.5)}
      {t(82, 319, 'protonation', 7.5)}
      {t(109, 326, 'redox', 7.5)}
      {t(137, 319, 'diffusion', 7.5)}
      {/* legends */}
      <FcsLegend x={181} y={15} w={74} items={legItems(PH_A)} />
      <FcsLegend x={182} y={233} w={73} items={legItems(PH_B, [{ lw: 1.8, lc: '#7a7a7a' }, { lw: 1, lc: RED }, { lw: 1, lc: GREEN }])} />
      <FcsLegend x={426} y={16} w={74} items={legItems(PH_C, [{ lw: 1.8, lc: '#7a7a7a' }, { lw: 1, lc: RED }, { lw: 1, lc: GREEN }])} />
      <FcsLegend x={429} y={233} w={72} items={legItems(PH_D)} />
      <FcsLegend x={673} y={21} w={74} items={legItems(PH_E, [{ lw: 1, lc: BLACK }, { lw: 2, lc: '#f09090' }, { lw: 1, lc: GREEN }])} />
      {/* F legend */}
      {F_NAMES.map((n, i) => {
        const cy = 338 + i * 12.5;
        return (
          <g key={n}>
            {drawShape(fShapes[i][1], fShapes[i][0], fShapes[i][2], 658, cy)}
            <text x={671} y={cy + 3.6} fontSize={10} fontFamily={FONT} fill="#000">{nameSpans(n)}</text>
          </g>
        );
      })}
    </svg>
  );
}

export default function App() {
  return (
    <div style={{ position: 'fixed', left: 0, top: 0, width: 754, height: 429, background: '#fff', overflow: 'hidden', fontFamily: FONT }}>
      {PANELS.map((p, i) => <FcsPanel key={i} p={p} />)}
      <PanelF />
      <Overlay />
    </div>
  );
}
